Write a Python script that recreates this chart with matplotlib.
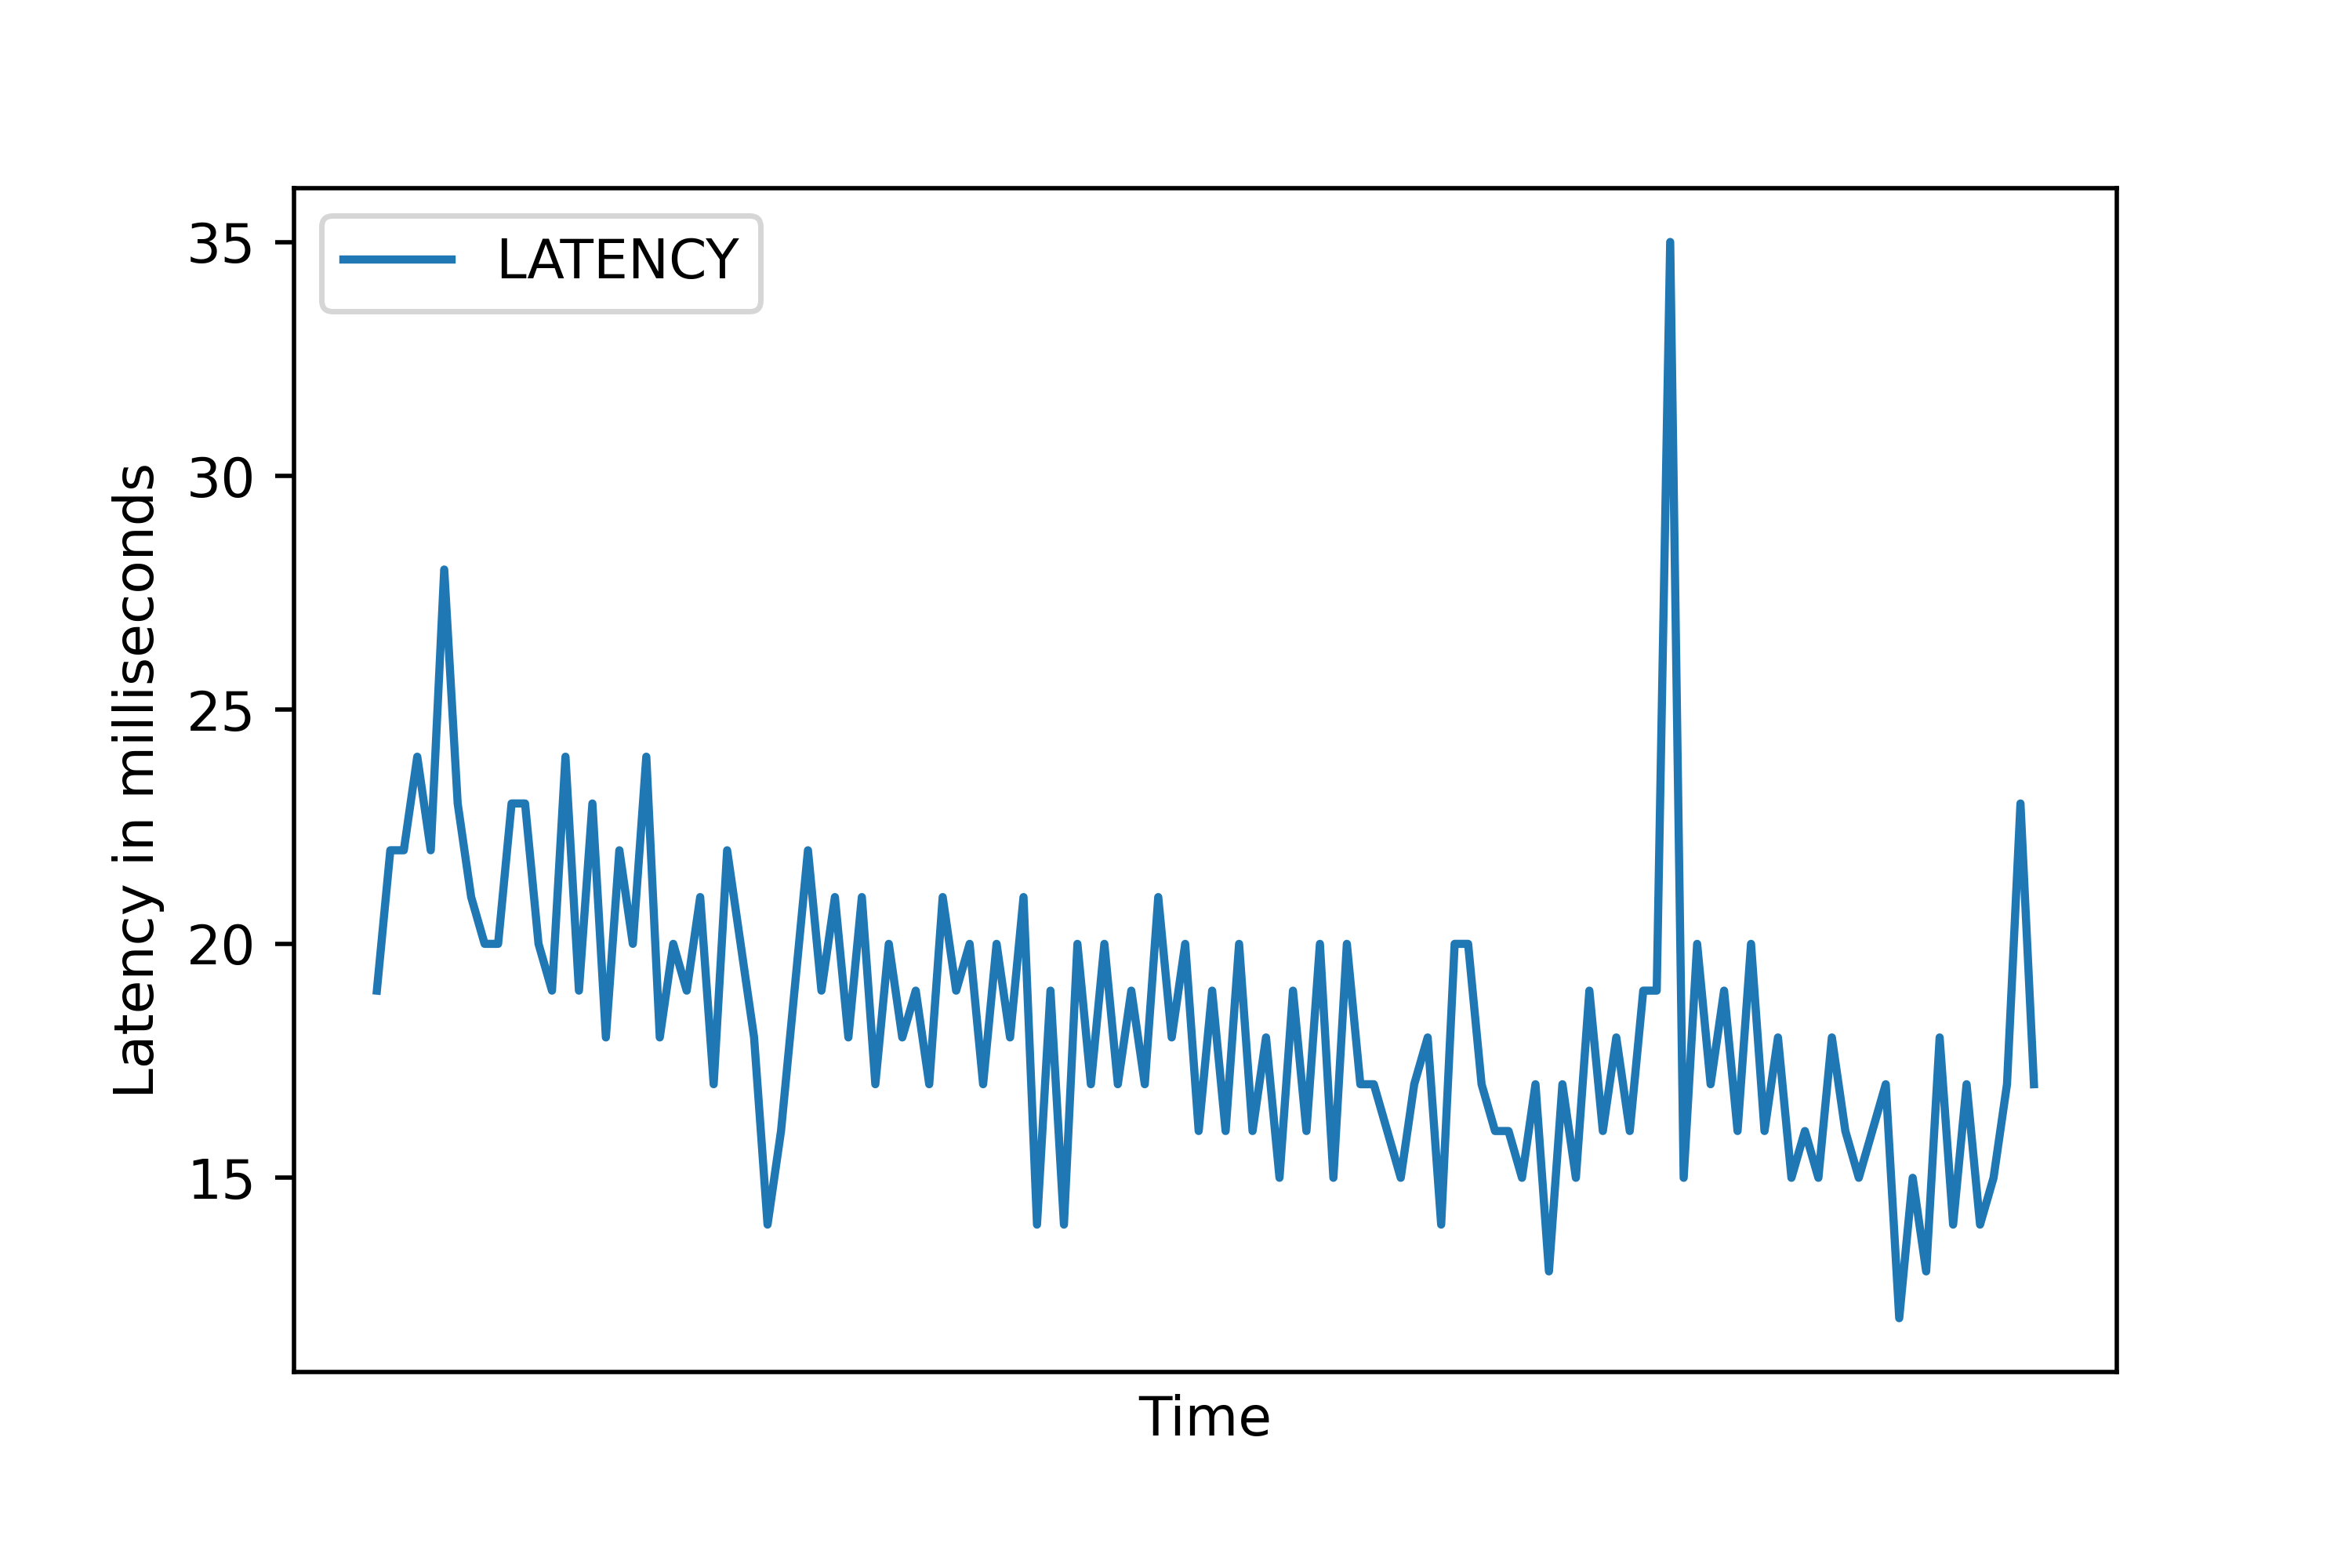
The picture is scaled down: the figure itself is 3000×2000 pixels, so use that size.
import matplotlib
matplotlib.use("Agg")
import matplotlib.pyplot as plt

seg1 = [19, 22, 22, 24, 22, 28, 23, 21, 20, 20, 23, 23, 20, 19, 24, 19, 23, 18, 22, 20, 24, 18]
seg2 = [20, 19, 21, 17, 22, 20, 18, 14, 16, 19, 22, 19, 21, 18, 21, 17, 20, 18, 19, 17, 21]
seg3 = [19, 20, 17, 20, 18, 21, 14, 19, 14, 20, 17, 20, 17, 19, 17, 21, 18, 20, 16, 19, 16]
seg4 = [20, 16, 18, 15, 19, 16, 20, 15, 20, 17, 17, 16, 15, 17, 18, 14, 20, 20, 17, 16, 16]
seg5 = [15, 17, 13, 17, 15, 19, 16, 18, 16, 19, 19, 35, 15, 20, 17, 19, 16, 20, 16, 18, 15]
seg6 = [16, 15, 18, 16, 15, 16, 17, 12, 15, 13, 18, 14, 17, 14, 15, 17, 23, 17]

latency = seg1 + seg2 + seg3 + seg4 + seg5 + seg6
time_idx = list(range(len(latency)))

fig, ax = plt.subplots(figsize=(6, 4), dpi=500)
fig.subplots_adjust(left=0.125, right=0.9, bottom=0.125, top=0.88)
ax.plot(time_idx, latency, color="#1f77b4", linewidth=1.5, label="LATENCY")
ax.set_xticks([])
ax.set_yticks([15, 20, 25, 30, 35])
ax.set_xlabel("Time")
ax.set_ylabel("Latency in milliseconds")
ax.legend(loc="upper left")
fig.savefig("out.png", dpi=500)
